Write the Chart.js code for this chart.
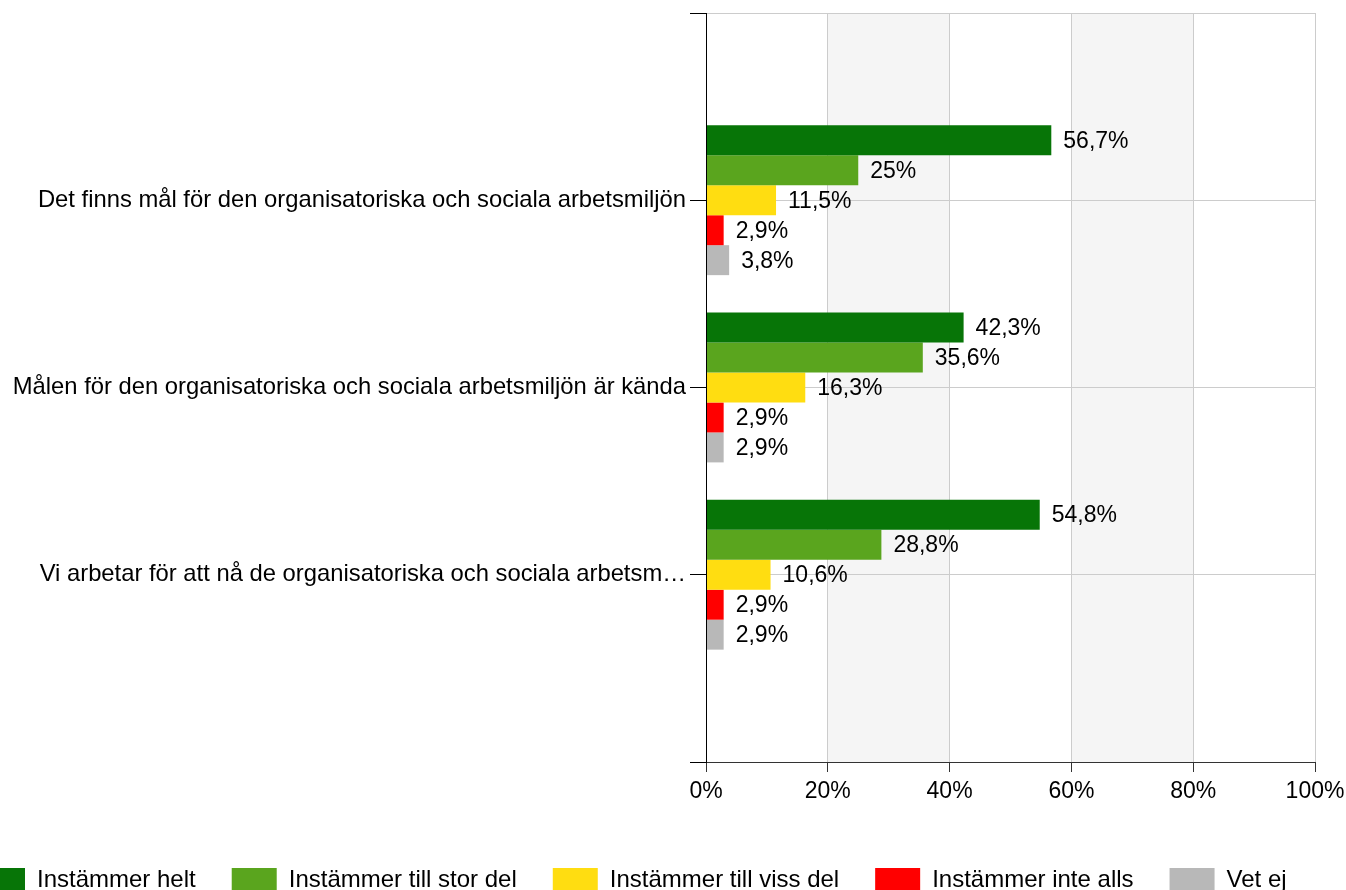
<!DOCTYPE html>
<html lang="sv">
<head>
<meta charset="utf-8">
<title>Organisatorisk och social arbetsmiljö</title>
<script src="https://cdn.jsdelivr.net/npm/chart.js@4.4.1/dist/chart.umd.min.js"></script>
<style>
  html, body { margin: 0; padding: 0; background: #fff; overflow: hidden; }
  #wrap { position: relative; width: 1346px; height: 890px; overflow: hidden; }
  #chart { position: absolute; left: -56px; top: 0; }
</style>
</head>
<body>
<div id="wrap"><canvas id="chart" width="1440" height="902"></canvas></div>
<script>
const categories = [
  'Det finns mål för den organisatoriska och sociala arbetsmiljön',
  'Målen för den organisatoriska och sociala arbetsmiljön är kända',
  'Vi arbetar för att nå de organisatoriska och sociala arbetsm…'
];
const seriesNames = ['Instämmer helt', 'Instämmer till stor del', 'Instämmer till viss del', 'Instämmer inte alls', 'Vet ej'];
const instammerHelt = [56.7, 42.3, 54.8];
const tillStorDel = [25, 35.6, 28.8];
const tillVissDel = [11.5, 16.3, 10.6];
const inteAlls = [2.9, 2.9, 2.9];
const vetEj = [3.8, 2.9, 2.9];
const xTickValues = [0, 20, 40, 60, 80, 100];

const seriesColors = ['#077507', '#5aa51e', '#ffdd11', '#ff0000', '#b8b8b8'];
const FONT = "'Liberation Sans', Arial, sans-serif";

// empty slots above and below so the categories sit on the grid lines
const labels = ['', ...categories, ''];
const pad = (values) => [null, ...values, null];

const bandsPlugin = {
  id: 'bands',
  beforeDraw(chart) {
    const { ctx, chartArea, scales } = chart;
    ctx.save();
    ctx.fillStyle = '#f5f5f5';
    [[20, 40], [60, 80]].forEach(([from, to]) => {
      const x1 = scales.x.getPixelForValue(from);
      const x2 = scales.x.getPixelForValue(to);
      ctx.fillRect(x1, chartArea.top, x2 - x1, chartArea.bottom - chartArea.top);
    });
    ctx.restore();
  }
};

const valueLabels = {
  id: 'valueLabels',
  afterDatasetsDraw(chart) {
    const { ctx } = chart;
    ctx.save();
    ctx.font = '23px ' + FONT;
    ctx.fillStyle = '#000';
    ctx.textAlign = 'left';
    ctx.textBaseline = 'middle';
    chart.data.datasets.forEach((ds, i) => {
      chart.getDatasetMeta(i).data.forEach((bar, j) => {
        const v = ds.data[j];
        if (v === null) {
          return;
        }
        ctx.fillText(String(v).replace('.', ',') + '%', bar.x + 12, bar.y + 1);
      });
    });
    ctx.restore();
  }
};

const seriesValues = [instammerHelt, tillStorDel, tillVissDel, inteAlls, vetEj];

Chart.defaults.color = '#000';
Chart.defaults.font.family = FONT;

new Chart(document.getElementById('chart'), {
  type: 'bar',
  data: {
    labels,
    datasets: seriesNames.map((name, i) => ({
      label: name,
      data: pad(seriesValues[i]),
      backgroundColor: seriesColors[i],
      borderWidth: 0,
      categoryPercentage: 0.8,
      barPercentage: 1
    }))
  },
  options: {
    indexAxis: 'y',
    responsive: false,
    animation: false,
    layout: { padding: { top: 13, right: 0, left: 0, bottom: 0 } },
    scales: {
      x: {
        min: 0,
        max: 100,
        afterBuildTicks: (scale) => {
          scale.ticks = xTickValues.map((value) => ({ value }));
        },
        afterFit: (scale) => {
          scale.height = 70;
          scale.paddingLeft = 0;
          scale.paddingRight = 69;
        },
        ticks: {
          callback: (v) => v + '%',
          font: { size: 23 },
          color: '#000',
          padding: 6,
          maxRotation: 0
        },
        grid: {
          color: (c) => (c.tick && c.tick.value === 0 ? 'rgba(0,0,0,0)' : '#cccccc'),
          tickColor: '#333',
          tickLength: 10
        },
        border: { color: '#333', width: 1 }
      },
      y: {
        offset: false,
        afterFit: (scale) => {
          scale.width = 762;
          scale.paddingTop = 0;
          scale.paddingBottom = 0;
        },
        ticks: {
          font: { size: 23.8 },
          color: '#000',
          padding: 4,
          autoSkip: false
        },
        grid: {
          offset: false,
          color: '#cccccc',
          tickColor: '#000',
          tickLength: 16
        },
        border: { color: '#000', width: 1, z: 1 }
      }
    },
    plugins: {
      legend: {
        position: 'bottom',
        align: 'start',
        labels: {
          boxWidth: 45,
          boxHeight: 24,
          padding: 36,
          font: { size: 24 },
          color: '#000'
        }
      },
      tooltip: { enabled: false }
    }
  },
  plugins: [bandsPlugin, valueLabels]
});
</script>
</body>
</html>
